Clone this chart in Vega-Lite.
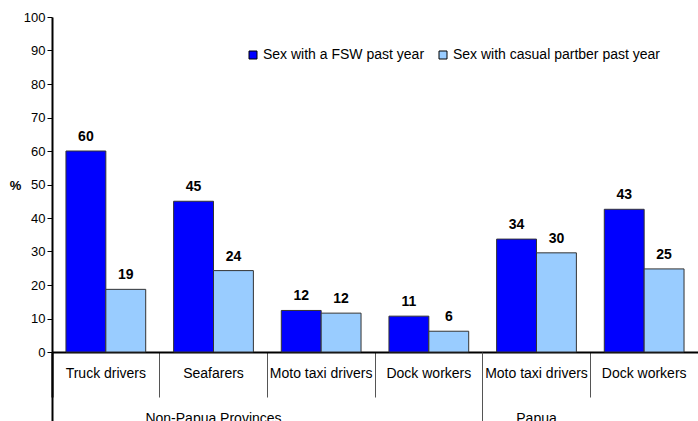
{
  "$schema": "https://vega.github.io/schema/vega-lite/v6.json",
  "width": 646,
  "height": 335,
  "autosize": "none",
  "padding": {"left": 52, "top": 17, "right": 0, "bottom": 69},
  "config": {
    "view": {"stroke": null},
    "font": "Liberation Sans",
    "axis": {"grid": false}
  },
  "data": {
    "values": [
      {"key": "NP|Truck drivers", "series": "Sex with a FSW past year", "v": 60},
      {"key": "NP|Truck drivers", "series": "Sex with casual partber past year", "v": 18.7},
      {"key": "NP|Seafarers", "series": "Sex with a FSW past year", "v": 45},
      {"key": "NP|Seafarers", "series": "Sex with casual partber past year", "v": 24.3},
      {"key": "NP|Moto taxi drivers", "series": "Sex with a FSW past year", "v": 12.4},
      {"key": "NP|Moto taxi drivers", "series": "Sex with casual partber past year", "v": 11.6},
      {"key": "NP|Dock workers", "series": "Sex with a FSW past year", "v": 10.7},
      {"key": "NP|Dock workers", "series": "Sex with casual partber past year", "v": 6.2},
      {"key": "P|Moto taxi drivers", "series": "Sex with a FSW past year", "v": 33.7},
      {"key": "P|Moto taxi drivers", "series": "Sex with casual partber past year", "v": 29.6},
      {"key": "P|Dock workers", "series": "Sex with a FSW past year", "v": 42.6},
      {"key": "P|Dock workers", "series": "Sex with casual partber past year", "v": 24.8}
    ]
  },
  "encoding": {
    "y": {
      "field": "v", "type": "quantitative",
      "scale": {"domain": [0, 100], "nice": false},
      "axis": {
        "title": "%", "titleAngle": 0, "titleX": -37, "titleY": 168,
        "titleFontSize": 13, "titleFontWeight": "bold", "titleBaseline": "middle", "titleAlign": "center",
        "values": [0, 10, 20, 30, 40, 50, 60, 70, 80, 90, 100], "labelOverlap": false,
        "labelFontSize": 13, "labelColor": "#000", "labelPadding": 2,
        "tickSize": 5, "tickColor": "#000", "tickWidth": 1,
        "domainColor": "#000", "domainWidth": 2
      }
    }
  },
  "resolve": {"axis": {"x": "independent"}},
  "layer": [
    {
      "mark": {"type": "bar", "stroke": "#333", "strokeWidth": 1},
      "encoding": {
        "x": {
          "field": "key", "type": "nominal", "sort": null,
          "scale": {"paddingInner": 0, "paddingOuter": 0},
          "axis": {
            "orient": "bottom", "title": null, "bandPosition": 0,
            "labelAngle": 0,
            "labelExpr": "split(datum.value,'|')[1]",
            "labelFontSize": 14, "labelColor": "#000", "labelBaseline": "top",
            "labelPadding": -31,
            "domainColor": "#000", "domainWidth": 2,
            "tickSize": 45,
            "tickColor": {"condition": {"test": "datum.value === 'NP|Truck drivers'", "value": "#000"}, "value": "#555"},
            "tickWidth": {"condition": {"test": "datum.value === 'NP|Truck drivers'", "value": 2}, "value": 1}
          }
        },
        "xOffset": {
          "field": "series", "type": "nominal",
          "scale": {"paddingInner": 0, "paddingOuter": 0.35}
        },
        "color": {
          "field": "series", "type": "nominal",
          "scale": {"range": ["#0000FF", "#99CCFF"]},
          "legend": {
            "orient": "none", "legendX": 194, "legendY": 31, "direction": "horizontal",
            "title": null, "symbolType": "square", "symbolSize": 64,
            "symbolStrokeColor": "#000", "symbolStrokeWidth": 1,
            "labelFontSize": 14, "labelColor": "#000", "columnPadding": 11, "labelOffset": 3, "labelLimit": 0
          }
        }
      }
    },
    {
      "mark": {"type": "text", "baseline": "bottom", "dy": -7, "fontWeight": "bold", "fontSize": 14, "color": "#000"},
      "encoding": {
        "x": {
          "field": "key", "type": "nominal", "sort": null,
          "axis": {
            "orient": "bottom", "title": null, "bandPosition": 1,
            "values": ["NP|Seafarers", "P|Moto taxi drivers"],
            "labelExpr": "split(datum.value,'|')[0] === 'NP' ? 'Non-Papua Provinces' : 'Papua'",
            "labelAngle": 0, "labelFontSize": 14, "labelColor": "#000", "labelBaseline": "top",
            "ticks": false, "tickSize": 0, "domain": false, "labelPadding": 59, "labelOverlap": false
          }
        },
        "xOffset": {"field": "series", "type": "nominal"},
        "text": {"field": "v", "type": "quantitative", "format": ".0f"}
      }
    },
    {
      "mark": {"type": "point", "opacity": 0},
      "encoding": {
        "x": {
          "field": "key", "type": "nominal", "sort": null,
          "axis": {
            "orient": "bottom", "title": null, "bandPosition": 0,
            "values": ["NP|Truck drivers", "P|Moto taxi drivers"],
            "labels": false, "domain": false, "tickSize": 80,
            "tickColor": {"condition": {"test": "datum.value === 'NP|Truck drivers'", "value": "#000"}, "value": "#555"},
            "tickWidth": {"condition": {"test": "datum.value === 'NP|Truck drivers'", "value": 2}, "value": 1}
          }
        }
      }
    }
  ]
}
